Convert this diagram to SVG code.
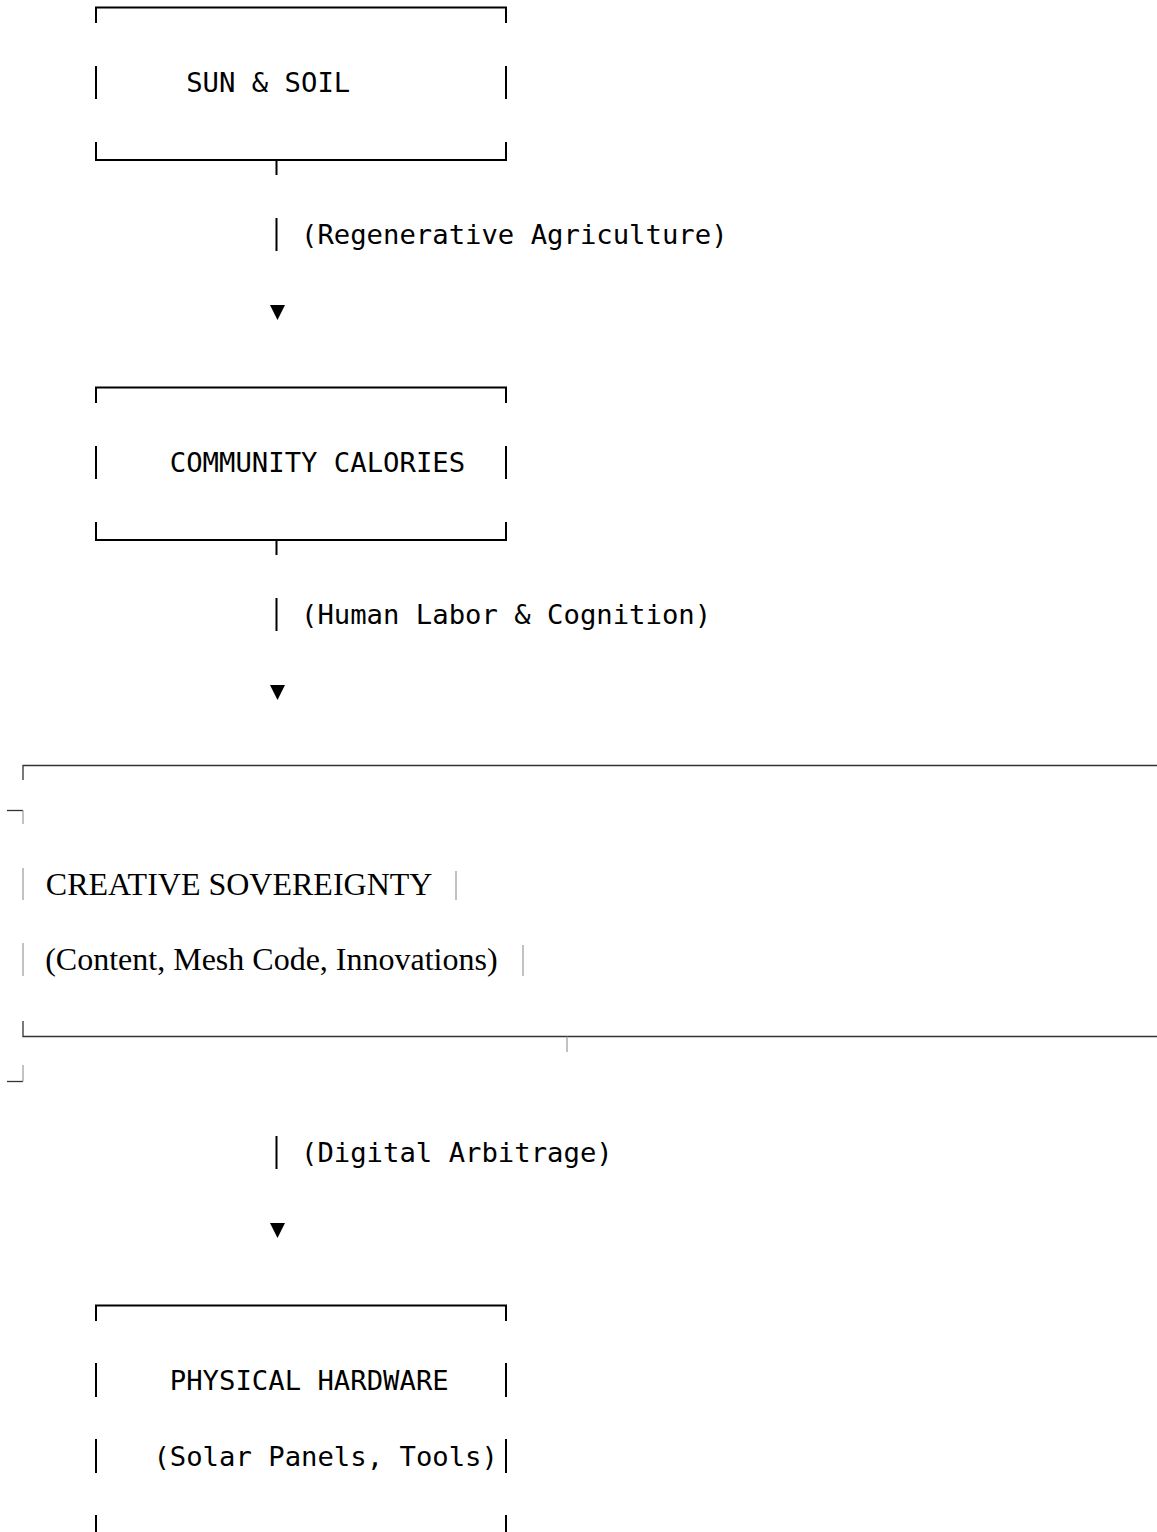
<svg xmlns="http://www.w3.org/2000/svg" width="1157" height="1532" viewBox="0 0 1157 1532">
<style>
.mono{font-family:"DejaVu Sans Mono",monospace;font-size:27.25px;fill:#000}
.serif{font-family:"Liberation Serif","Times New Roman",serif;font-size:32px;fill:#000}
.box{stroke:#000;stroke-width:2;fill:none}
.sh{stroke:#333;stroke-width:1.3;fill:none}
.sv{stroke:#999;stroke-width:1.2;fill:none}
.bar{stroke:#000;stroke-width:2}
.arrow{fill:#000}
</style>
<rect width="1157" height="1532" fill="#fff"/>
<g id="node-sun-soil">
<path class="box" d="M96,23 V7.5 H506 V23 M96,66 V99 M506,66 V99 M96,142 V160 H506 V142"/>
<text class="mono" x="186.2" y="92.3">SUN &amp; SOIL</text>
</g>
<g id="node-community-calories">
<path class="box" d="M96,403 V387.5 H506 V403 M96,446 V479 M506,446 V479 M96,522 V540 H506 V522"/>
<text class="mono" x="169.8" y="472.3">COMMUNITY CALORIES</text>
</g>
<g id="node-creative-sovereignty">
<path class="sh" d="M23,780 V765.5 H1157"/>
<path class="sh" d="M7,810.5 H23"/>
<path class="sv" d="M23,810.5 V824"/>
<path class="sv" d="M23,868 V900 M456,871 V900 M23,943 V976 M523,945 V976"/>
<text class="serif" x="45.8" y="895">CREATIVE SOVEREIGNTY</text>
<text class="serif" x="45.2" y="970">(Content, Mesh Code, Innovations)</text>
<path class="sh" d="M23,1021 V1036.5 H1157"/>
<path class="sh" d="M7,1081.5 H23"/>
<path class="sv" d="M23,1065 V1081.5"/>
</g>
<g id="node-physical-hardware">
<path class="box" d="M96,1321 V1305.5 H506 V1321 M96,1363 V1397 M506,1363 V1397 M96,1439 V1473 M506,1439 V1473 M96,1515 V1532 M506,1515 V1532"/>
<text class="mono" x="169.8" y="1389.8">PHYSICAL HARDWARE</text>
<text class="mono" x="153.4" y="1465.8">(Solar Panels, Tools)</text>
</g>
<g id="connectors">
<path class="bar" d="M276.5,160 V175 M276.5,218 V251"/>
<text class="mono" x="301" y="244.3">(Regenerative Agriculture)</text>
<polygon class="arrow" points="270,305 285,305 277.5,320"/>
<path class="bar" d="M276.5,540 V555 M276.5,598 V631"/>
<text class="mono" x="301" y="624.3">(Human Labor &amp; Cognition)</text>
<polygon class="arrow" points="270,685 285,685 277.5,700"/>
<path class="sv" d="M567,1036.5 V1052"/>
<path class="bar" d="M276.5,1136 V1169"/>
<text class="mono" x="301" y="1162.3">(Digital Arbitrage)</text>
<polygon class="arrow" points="270,1223 285,1223 277.5,1238"/>
</g>
</svg>
